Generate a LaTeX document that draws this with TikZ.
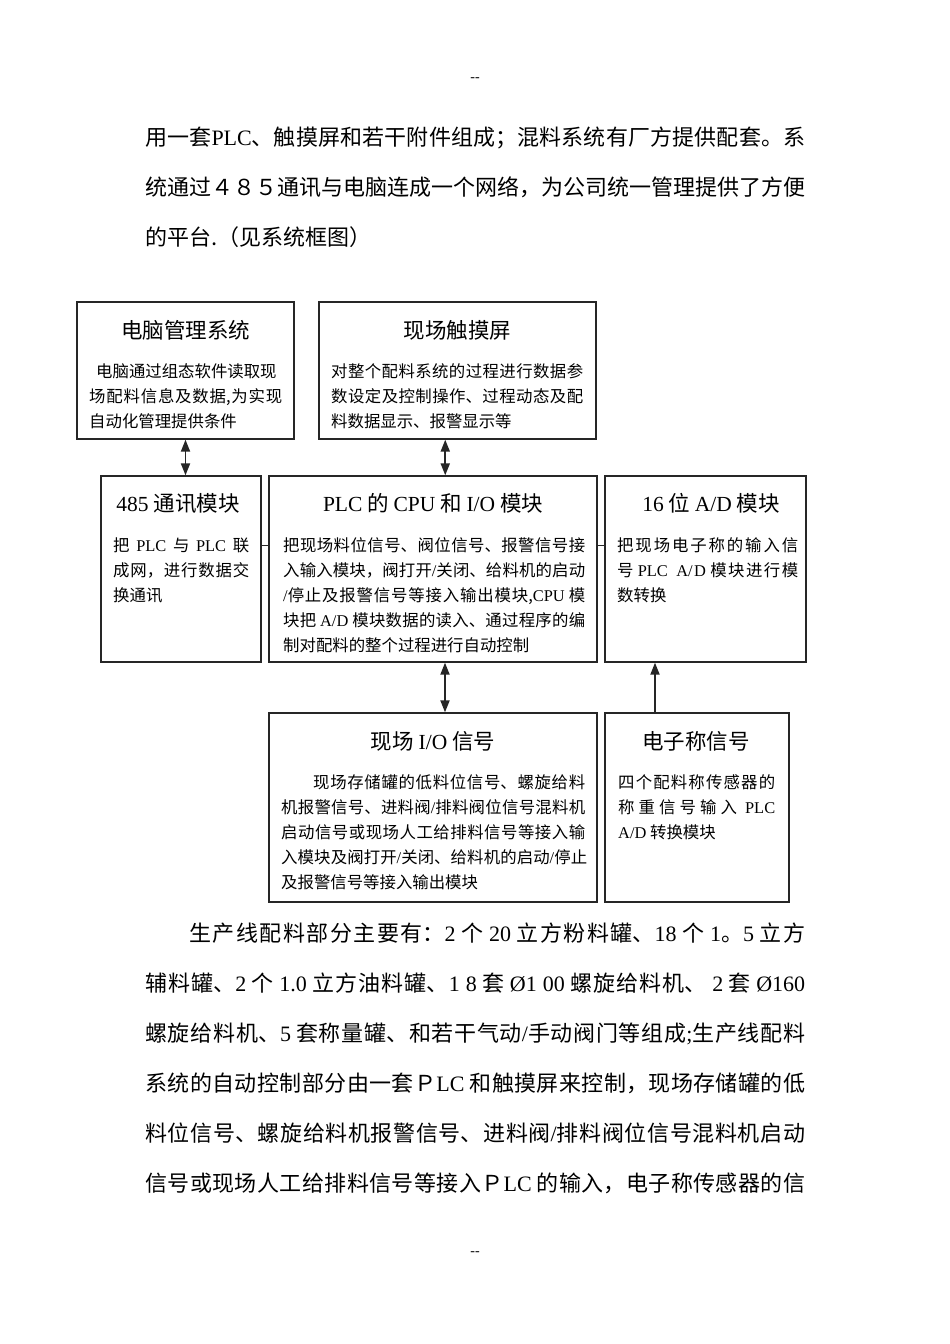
\documentclass[tikz,border=0pt]{standalone}
\usepackage{fontspec}
\setmainfont{Noto Sans CJK SC}
\newfontfamily\latfont{Liberation Serif}
\newcommand\lt[1]{{\latfont #1}}
\usetikzlibrary{arrows.meta,calc}
\XeTeXlinebreaklocale "zh"
\XeTeXlinebreakskip=0pt plus 5pt
\newcommand\jbox[2]{\parbox[b]{#1pt}{\parfillskip=0pt\relax\parindent=0pt\relax\leftskip=0pt\relax\rightskip=0pt\relax\hyphenpenalty=10000\relax #2}}
\begin{document}
\begin{tikzpicture}[x=1pt,y=-1pt,
  frame/.style={draw=black!85,line width=1.3pt,inner sep=0pt},
  ttl/.style={font=\fontsize{21.5}{26}\selectfont,anchor=base,inner sep=0pt},
  txt/.style={font=\fontsize{16.4}{20}\selectfont,anchor=base west,inner sep=0pt},
  para/.style={font=\fontsize{22}{26}\selectfont,anchor=base west,inner sep=0pt},
  pagemark/.style={font=\fontsize{14}{16}\selectfont\latfont,inner sep=0pt},
  conn/.style={draw=black!85,line width=1.8pt},
  twoarrow/.style={{Triangle[width=9pt,length=12pt]}-{Triangle[width=9pt,length=12pt]}},
  onearrow/.style={-{Triangle[width=9pt,length=12pt]}},
  tie/.style={draw=black!85,line width=1pt}]
\fill[white] (0,0) rectangle (950,1344);
\useasboundingbox (0,0) rectangle (950,1344);

% page marks
\node[pagemark] (pg1) at (475,80) {{-}{-}};
\node[pagemark] (pg2) at (475,1254) {{-}{-}};

% top paragraph
\node[para] (q1) at (145,145.5) {\jbox{660}{用一套\lt{PLC}、触摸屏和若干附件组成；混料系统有厂方提供配套。系}};
\node[para] (q2) at (145,195.5) {\jbox{660}{统通过４８５通讯与电脑连成一个网络，为公司统一管理提供了方便}};
\node[para] (q3) at (145,245.5) {的平台.（见系统框图）};

% boxes
\node[frame,minimum width=217pt,minimum height=137pt] (pc) at (185.5,370.5) {};
\node[frame,minimum width=277pt,minimum height=137pt] (touch) at (457.5,370.5) {};
\node[frame,minimum width=160pt,minimum height=186pt] (com) at (181,569) {};
\node[frame,minimum width=328pt,minimum height=186pt] (plc) at (433,569) {};
\node[frame,minimum width=201pt,minimum height=186pt] (ad) at (705.5,569) {};
\node[frame,minimum width=328pt,minimum height=189pt] (io) at (433,807.5) {};
\node[frame,minimum width=184pt,minimum height=189pt] (scale) at (697,807.5) {};

% box 1
\node[ttl] (t1) at (185.5,338) {电脑管理系统};
\node[txt] (a1) at (96,377) {电脑通过组态软件读取现};
\node[txt] (a2) at (89,402) {\jbox{193}{场配料信息及数据,为实现}};
\node[txt] (a3) at (89,427) {自动化管理提供条件};

% box 2
\node[ttl] (t2) at (457.5,338) {现场触摸屏};
\node[txt] (b1) at (331,377) {\jbox{252}{对整个配料系统的过程进行数据参}};
\node[txt] (b2) at (331,402) {\jbox{252}{数设定及控制操作、过程动态及配}};
\node[txt] (b3) at (331,427) {料数据显示、报警显示等};

% box 485
\node[ttl] (t3) at (178,511) {\lt{485} 通讯模块};
\node[txt] (c1) at (113,551) {\jbox{136}{把 \lt{PLC} 与 \lt{PLC} 联}};
\node[txt] (c2) at (113,576) {\jbox{136}{成网，进行数据交}};
\node[txt] (c3) at (113,601) {换通讯};

% box PLC
\node[ttl] (t4) at (433,511) {\lt{PLC} 的 \lt{CPU} 和 \lt{I/O} 模块};
\node[txt] (p1) at (283,551) {\jbox{302}{把现场料位信号、阀位信号、报警信号接}};
\node[txt] (p2) at (283,576) {\jbox{302}{入输入模块，阀打开\lt{/}关闭、给料机的启动}};
\node[txt] (p3) at (283,601) {\jbox{302}{\lt{/}停止及报警信号等接入输出模块,\lt{CPU} 模}};
\node[txt] (p4) at (283,626) {\jbox{302}{块把 \lt{A/D} 模块数据的读入、通过程序的编}};
\node[txt] (p5) at (283,651) {制对配料的整个过程进行自动控制};

% box AD
\node[ttl] (t5) at (711,511) {\lt{16} 位 \lt{A/D} 模块};
\node[txt] (d1) at (617,551) {\jbox{181}{把现场电子称的输入信}};
\node[txt] (d2) at (617,576) {\jbox{181}{号 \lt{PLC}\ \ \lt{A/D} 模块进行模}};
\node[txt] (d3) at (617,601) {数转换};

% box IO
\node[ttl] (t6) at (433,749) {现场 \lt{I/O} 信号};
\node[txt] (i1) at (281,788) {\jbox{304}{\hspace*{32pt}现场存储罐的低料位信号、螺旋给料}};
\node[txt] (i2) at (281,813) {\jbox{304}{机报警信号、进料阀\lt{/}排料阀位信号混料机}};
\node[txt] (i3) at (281,838) {\jbox{304}{启动信号或现场人工给排料信号等接入输}};
\node[txt] (i4) at (281,863) {\jbox{306}{入模块及阀打开\lt{/}关闭、给料机的启动\lt{/}停止}};
\node[txt] (i5) at (281,888) {及报警信号等接入输出模块};

% box scale
\node[ttl] (t7) at (696,749) {电子称信号};
\node[txt] (s1) at (618,788) {\jbox{157}{四个配料称传感器的}};
\node[txt] (s2) at (618,813) {\jbox{157}{称 重 信 号 输 入 \ \lt{PLC}}};
\node[txt] (s3) at (618,838) {\lt{A/D} 转换模块};

% connectors
\draw[conn,twoarrow] (pc.south) -- (pc.south |- com.north);
\coordinate (m1) at ($(touch.south)!.5!(plc.north)$);
\draw[conn,twoarrow] (m1 |- touch.south) -- (m1 |- plc.north);
\draw[conn,twoarrow] ([xshift=12pt]plc.south) -- ([xshift=12pt]plc.south |- io.north);
\draw[conn,onearrow] ([xshift=-42pt]scale.north) -- ([xshift=-42pt]scale.north |- ad.south);
\draw[tie] ([yshift=24pt]com.east) -- ([yshift=24pt]com.east -| plc.west);
\draw[tie] ([yshift=24pt]plc.east) -- ([yshift=24pt]plc.east -| ad.west);

% bottom paragraph
\node[para] (r1) at (145,941.4) {\jbox{660}{\hspace*{44pt}生产线配料部分主要有：\lt{2} 个 \lt{20} 立方粉料罐、\lt{18} 个 \lt{1}。\lt{5} 立方}};
\node[para] (r2) at (145,991.4) {\jbox{660}{辅料罐、\lt{2} 个 \lt{1.0} 立方油料罐、\lt{1 8} 套 \lt{Ø1 00} 螺旋给料机、 \lt{2} 套 \lt{Ø160}}};
\node[para] (r3) at (145,1041.4) {\jbox{660}{螺旋给料机、\lt{5} 套称量罐、和若干气动\lt{/}手动阀门等组成\lt{;}生产线配料}};
\node[para] (r4) at (145,1091.4) {\jbox{660}{系统的自动控制部分由一套Ｐ\lt{LC} 和触摸屏来控制，现场存储罐的低}};
\node[para] (r5) at (145,1141.4) {\jbox{660}{料位信号、螺旋给料机报警信号、进料阀\lt{/}排料阀位信号混料机启动}};
\node[para] (r6) at (145,1191.4) {\jbox{660}{信号或现场人工给排料信号等接入Ｐ\lt{LC} 的输入，电子称传感器的信}};
\end{tikzpicture}
\end{document}
